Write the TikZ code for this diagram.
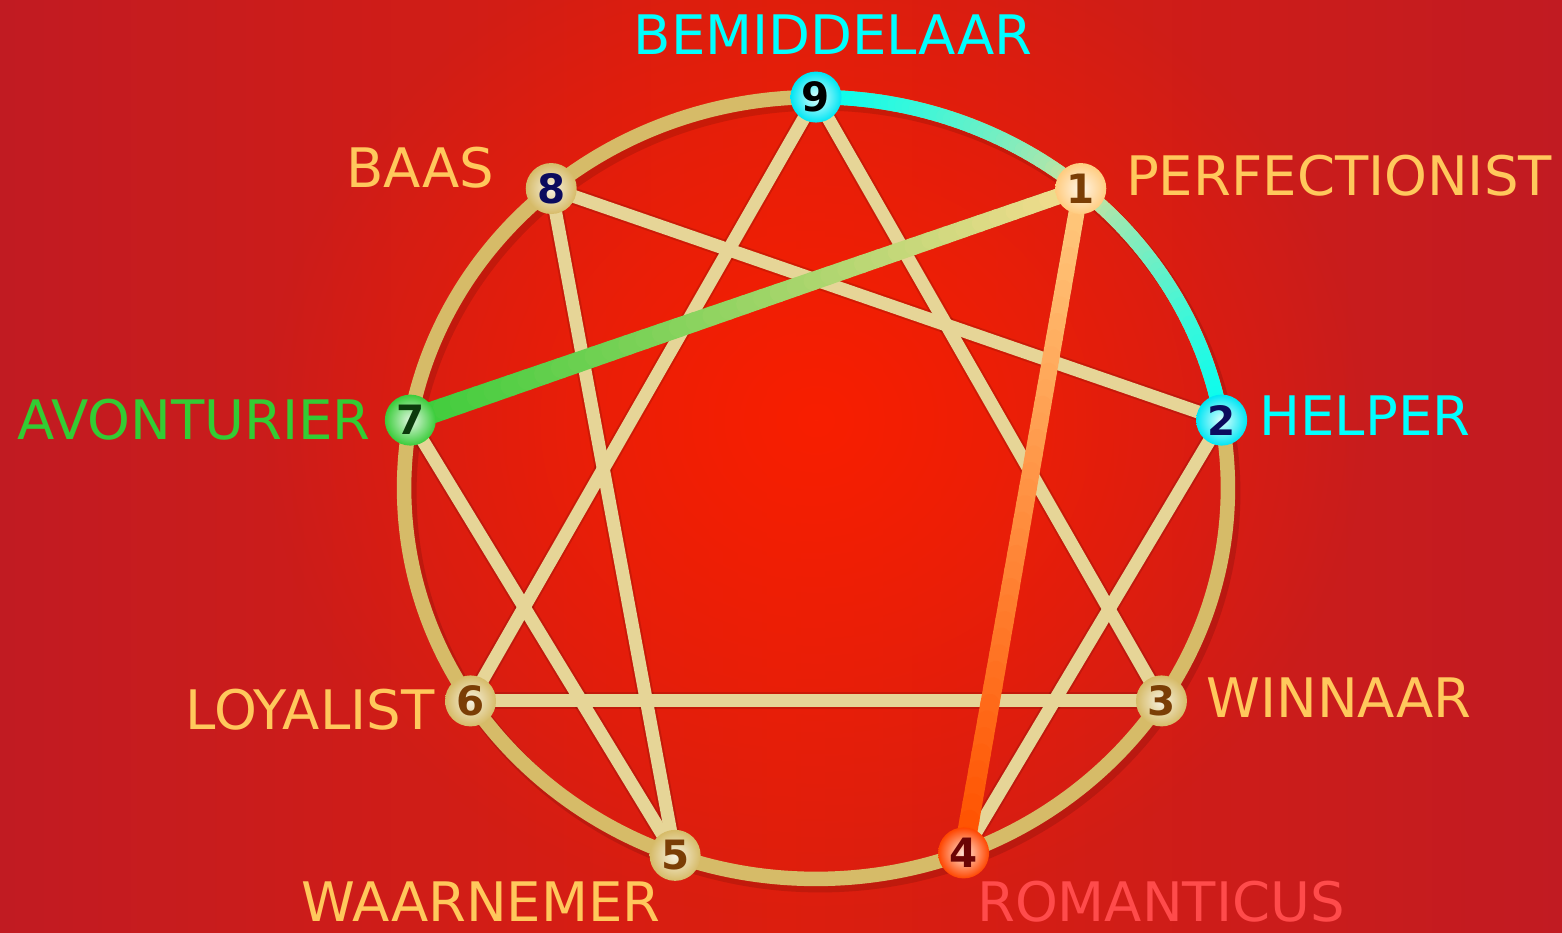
\documentclass[tikz,border=0pt]{standalone}
\usepackage{fontspec}
\setmainfont{DejaVu Sans}
\usetikzlibrary{calc,fadings}

\definecolor{bgedge}{HTML}{C11B22}
\definecolor{bgmid}{HTML}{DC1E0E}
\definecolor{bgcore}{HTML}{F81F00}
\definecolor{ringgold}{HTML}{D6BB68}
\definecolor{linegold}{HTML}{E6D597}
\definecolor{labelgold}{HTML}{FFC85C}
\definecolor{labelcyan}{HTML}{00FFFF}
\definecolor{labelgreen}{HTML}{33CC33}
\definecolor{labelred}{HTML}{FF4B4B}
\definecolor{tipcyan}{HTML}{00FFF2}
\definecolor{paleyellow}{HTML}{F2DC8E}
\definecolor{tipgreen}{HTML}{3ACC3A}
\definecolor{tiporange}{HTML}{FFCC80}
\definecolor{deeporange}{HTML}{FF5200}
\definecolor{numbrown}{HTML}{7B3E05}
\definecolor{numnavy}{HTML}{0B0B5E}
\definecolor{numgreen}{HTML}{0C3A0C}
\definecolor{numred}{HTML}{6B0505}

\tikzfading[name=glowfade, inner color=transparent!0, outer color=transparent!100]

\begin{document}
\begin{tikzpicture}[
  x=0.02cm, y=0.02cm,
  ringline/.style={draw=ringgold, line width=0.29cm},
  chordline/.style={draw=linegold, line width=0.26cm, line cap=round},
  shadowline/.style={draw=black, opacity=0.12, line width=0.34cm, line cap=round, shift={(4,-5)}},
  gradline/.style={line width=#1, line cap=round},
  pointnode/.style={circle, minimum size=1.02cm, inner sep=0pt, font=\bfseries\fontsize{23}{24}\selectfont},
  goldpoint/.style={pointnode, shade, inner color=ringgold!20!white, outer color=ringgold, text=numbrown},
  cyanpoint/.style={pointnode, shade, inner color=tipcyan!12!white, outer color=tipcyan!90!blue, text=numnavy},
  greenpoint/.style={pointnode, shade, inner color=tipgreen!15!white, outer color=tipgreen, text=numgreen},
  orangepoint/.style={pointnode, shade, inner color=tiporange!20!white, outer color=tiporange, text=numbrown},
  redpoint/.style={pointnode, shade, inner color=deeporange!15!white, outer color=deeporange!85!red, text=numred},
  typelabel/.style={font=\fontsize{31}{32}\selectfont}
]
  \useasboundingbox (0,0) rectangle (1562,933);
  \clip (0,0) rectangle (1562,933);

  % background
  \shade[left color=bgedge, right color=bgedge, middle color=bgmid] (0,0) rectangle (1562,933);
  \fill[bgcore, path fading=glowfade] (816,513) ellipse [x radius=11cm, y radius=10cm];

  \begin{scope}[shift={(816,445)}]
    % points on the ring
    \coordinate (p9) at (90:8.24cm and 7.82cm);
    \coordinate (p1) at (50:8.24cm and 7.82cm);
    \coordinate (p2) at (10:8.24cm and 7.82cm);
    \coordinate (p3) at (-33:8.24cm and 7.82cm);
    \coordinate (p4) at (-69:8.24cm and 7.82cm);
    \coordinate (p5) at (-110:8.24cm and 7.82cm);
    \coordinate (p6) at (-147:8.24cm and 7.82cm);
    \coordinate (p7) at (170:8.24cm and 7.82cm);
    \coordinate (p8) at (130:8.24cm and 7.82cm);

    \draw[shadowline] (0,0) ellipse [x radius=8.24cm, y radius=7.82cm];
    \draw[ringline] (0,0) ellipse [x radius=8.24cm, y radius=7.82cm];

    % arc 9 -> 1 -> 2
    \foreach \a in {90,...,11}{
      \pgfmathtruncatemacro\p{100*(abs(\a-50)/40)^0.6}
      \colorlet{segc}{tipcyan!\p!paleyellow}
      \draw[gradline=0.29cm, segc] (\a:8.24cm and 7.82cm)
        arc[start angle=\a, end angle=\a-1, x radius=8.24cm, y radius=7.82cm];
    }
  \end{scope}

  % chords
  \foreach \s/\t in {9/6, 6/3, 8/5, 5/7, 4/2, 8/2, 9/3, 7/1, 1/4}
    \draw[shadowline] (p\s) -- (p\t);
  \draw[chordline] (p9) -- (p6);
  \draw[chordline] (p6) -- (p3);
  \draw[chordline] (p8) -- (p5);
  \draw[chordline] (p5) -- (p7);
  \draw[chordline] (p4) -- (p2);
  \draw[chordline] (p8) -- (p2);
  \draw[chordline] (p9) -- (p3);

  % 7 -> 1
  \foreach \i in {0,...,39}{
    \pgfmathtruncatemacro\p{100-\i*100/39}
    \colorlet{segc}{tipgreen!\p!paleyellow}
    \draw[gradline={(22-\i*6/39)*0.02cm}, segc] ($(p7)!\i/40!(p1)$) -- ($(p7)!\i/40+1/40!(p1)$);
  }
  % 1 -> 4
  \foreach \i in {0,...,39}{
    \pgfmathtruncatemacro\p{100-\i*100/39}
    \colorlet{segc}{tiporange!\p!deeporange}
    \draw[gradline={(16+\i*4/39)*0.02cm}, segc] ($(p1)!\i/40!(p4)$) -- ($(p1)!\i/40+1/40!(p4)$);
  }

  % numbered points
  \node[cyanpoint, text=black] (n9) at (p9) {9};
  \node[orangepoint] (n1) at (p1) {1};
  \node[cyanpoint] (n2) at (p2) {2};
  \node[goldpoint] (n3) at (p3) {3};
  \node[redpoint] (n4) at (p4) {4};
  \node[goldpoint] (n5) at (p5) {5};
  \node[goldpoint] (n6) at (p6) {6};
  \node[greenpoint] (n7) at (p7) {7};
  \node[goldpoint, text=numnavy] (n8) at (p8) {8};

  % type names
  \node[typelabel, text=labelcyan] (l9) at (833,898) {BEMIDDELAAR};
  \node[typelabel, text=labelgold] (l1) at (1339,757) {PERFECTIONIST};
  \node[typelabel, text=labelcyan] (l2) at (1365,517) {HELPER};
  \node[typelabel, text=labelgold] (l3) at (1339,235) {WINNAAR};
  \node[typelabel, text=labelred] (l4) at (1161,31) {ROMANTICUS};
  \node[typelabel, text=labelgold] (l5) at (481,31) {WAARNEMER};
  \node[typelabel, text=labelgold] (l6) at (310,223) {LOYALIST};
  \node[typelabel, text=labelgreen] (l7) at (194,513) {AVONTURIER};
  \node[typelabel, text=labelgold] (l8) at (420,765) {BAAS};
\end{tikzpicture}
\end{document}
